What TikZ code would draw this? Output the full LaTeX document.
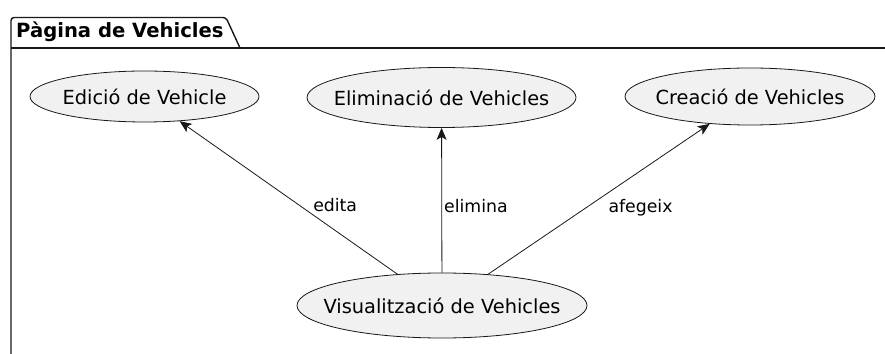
\documentclass[tikz,border=0pt]{standalone}
\usepackage{fontspec}
\setmainfont{DejaVu Sans}
\usepackage{tikz}
\usetikzlibrary{shapes.geometric}
\usetikzlibrary{arrows.meta}
\definecolor{ucfill}{HTML}{F1F1F1}
\definecolor{ucline}{HTML}{181818}

\begin{document}
\begin{tikzpicture}[x=1pt, y=1pt,
    usecase/.style={ellipse, draw=ucline, fill=ucfill, line width=0.8pt,
                    inner xsep=-60pt, inner ysep=-20pt,
                    font=\fontsize{19.4}{23}\selectfont},
    lbl/.style={inner sep=1pt, anchor=base west, yshift=-7pt, font=\fontsize{17.3}{21}\selectfont},
    link/.style={draw=ucline, line width=0.8pt, -{Stealth[length=12pt, width=10pt, inset=3pt]}},
    pkg/.style={draw=ucline, line width=1.4pt}]
  \useasboundingbox (0,0) rectangle (885,353);
  \clip (0,0) rectangle (885,353);

  % Package
  \draw[pkg, rounded corners=3pt] (11,-5) -- (11,335.5) -- (226,335.5) -- (240,305);
  \draw[pkg] (11,305) -- (890,305);
  \node[anchor=base west, inner sep=0pt, font=\bfseries\fontsize{19.6}{23}\selectfont] (title) at (16,315.3) {Pàgina de Vehicles};

  % Use cases
  \node[usecase, minimum width=229pt, minimum height=51pt] (edicio) at (144.5,256.5) {Edició de Vehicle};
  \node[usecase, minimum width=269pt, minimum height=60pt] (eliminacio) at (441.5,255.5) {Eliminació de Vehicles};
  \node[usecase, minimum width=250pt, minimum height=57pt] (creacio) at (750,256.5) {Creació de Vehicles};
  \node[usecase, minimum width=290pt, minimum height=65pt] (visual) at (442,47.5) {Visualització de Vehicles};

  % Relations
  \draw[link] (visual) -- node[lbl, pos=0.4525, xshift=13pt] (lbledita) {edita} (edicio);
  \draw[link] (visual) -- node[lbl, pos=0.467, xshift=1pt] (lblelimina) {elimina} (eliminacio);
  \draw[link] (visual) -- node[lbl, pos=0.4606, xshift=17pt] (lblafegeix) {afegeix} (creacio);
\end{tikzpicture}
\end{document}
